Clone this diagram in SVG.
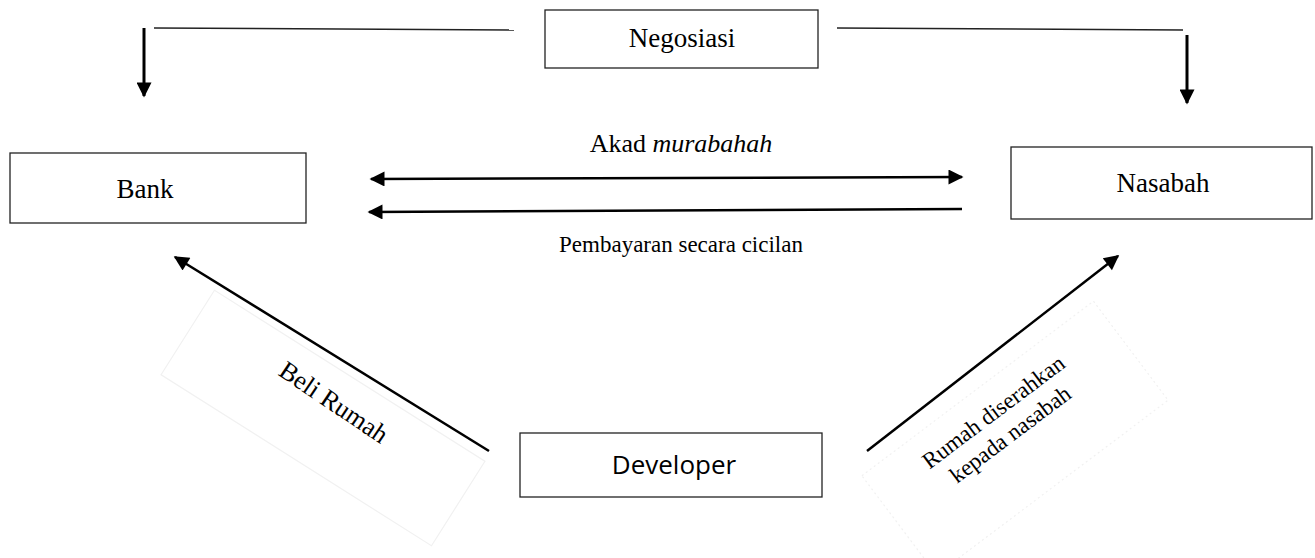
<svg xmlns="http://www.w3.org/2000/svg" width="1315" height="558" viewBox="0 0 1315 558">
<style>
.box{fill:#fff;stroke:#222;stroke-width:1.3}
.serif{font-family:"Liberation Serif","Times New Roman",serif;fill:#000}
.sans{font-family:"Open Sans","Liberation Sans",sans-serif;fill:#000}
.ln{stroke:#000;stroke-width:2.5;fill:none}
.vt{stroke:#000;stroke-width:3;fill:none}
.thin{stroke:#222;stroke-width:1.4;fill:none}
.faint{fill:none;stroke:#f1f1f1;stroke-width:1.2}
</style>
<defs>
<marker id="ah" viewBox="0 0 10 10" refX="9" refY="5" markerWidth="17" markerHeight="15" markerUnits="userSpaceOnUse" orient="auto-start-reverse">
<path d="M0,0 L10,5 L0,10 z" fill="#000"/>
</marker>
</defs>
<rect width="1315" height="558" fill="#fff"/>
<g id="label-beli">
<rect class="faint" x="-160" y="-50" width="320" height="100" transform="translate(323,418) rotate(32.3)"/>
<text class="serif" font-size="26" text-anchor="middle" transform="translate(334,402) rotate(34)" dy="9">Beli Rumah</text>
</g>
<g id="label-serah">
<rect class="faint" x="-145" y="-62" width="290" height="124" stroke-dasharray="2 3" transform="translate(1015,438) rotate(-37)"/>
<text class="serif" font-size="23" text-anchor="middle" transform="translate(998,418) rotate(-37)"><tspan x="0" y="0">Rumah diserahkan</tspan><tspan x="0" y="28">kepada nasabah</tspan></text>
</g>
<g id="connectors">
<line class="thin" x1="154" y1="28" x2="514" y2="30"/>
<line class="vt" x1="144" y1="28" x2="144" y2="96" marker-end="url(#ah)"/>
<line class="thin" x1="837" y1="28" x2="1183" y2="30"/>
<line class="vt" x1="1187" y1="35" x2="1187" y2="103" marker-end="url(#ah)"/>
<line class="ln" x1="371" y1="179" x2="962" y2="177" marker-start="url(#ah)" marker-end="url(#ah)"/>
<line class="ln" x1="962" y1="209" x2="369" y2="212" marker-end="url(#ah)"/>
<line class="ln" x1="489" y1="451" x2="175" y2="257" marker-end="url(#ah)"/>
<line class="ln" x1="867" y1="451" x2="1118" y2="256" marker-end="url(#ah)"/>
</g>
<g id="node-negosiasi">
<rect class="box" x="545" y="10" width="273" height="58"/>
<text class="serif" font-size="27" x="682" y="47" text-anchor="middle">Negosiasi</text>
</g>
<g id="node-bank">
<rect class="box" x="10" y="153" width="296" height="70"/>
<text class="serif" font-size="27" x="145" y="198" text-anchor="middle">Bank</text>
</g>
<g id="node-nasabah">
<rect class="box" x="1011" y="147" width="301" height="72"/>
<text class="serif" font-size="27" x="1163" y="192" text-anchor="middle">Nasabah</text>
</g>
<g id="node-developer">
<rect class="box" x="520" y="433" width="302" height="64"/>
<text class="sans" font-size="26" x="674" y="474" text-anchor="middle">Developer</text>
</g>
<g id="labels">
<text class="serif" font-size="26" x="681" y="152" text-anchor="middle">Akad <tspan font-style="italic">murabahah</tspan></text>
<text class="serif" font-size="23" x="681" y="252" text-anchor="middle">Pembayaran secara cicilan</text>
</g>
</svg>
